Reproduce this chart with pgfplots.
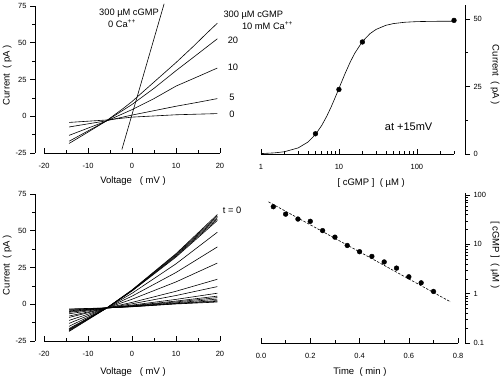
\documentclass[border=0pt]{standalone}
\usepackage{pgfplots}
\pgfplotsset{compat=1.18}
\usepackage{fontspec}
\setmainfont{Liberation Sans}
\tikzset{lab/.style={font=\fontsize{9.5}{11}\selectfont}, sml/.style={font=\fontsize{9.3}{11}\selectfont}}
\pgfplotsset{
  base/.style={
    scale only axis, clip=false, separate axis lines,
    /pgf/number format/assume math mode=true,
    tick label style={font=\fontsize{7.5}{8}\selectfont},
    major tick length=5pt, minor tick length=3pt,
    tick style={line width=0.6pt, black},
    axis line style={line width=0.8pt},
  },
  xpart/.style={base, axis x line=bottom, axis y line=none, ytick=\empty, tick align=inside, xticklabel style={yshift=-6.5pt}},
  ypart/.style={base, axis y line=#1, axis x line=none, xtick=\empty, tick align=outside},
  tr/.style={black, line width=0.6pt, mark=none},
}
\begin{document}
\begin{tikzpicture}
\useasboundingbox (0pt,0pt) rectangle (500pt,377pt);
% ---------------- Panel A ----------------
\begin{axis}[xpart, at={(35pt,224pt)}, anchor=south west, width=185pt, height=147pt,
  xmin=-22.05, xmax=20, ymin=-25, ymax=75,
  xtick={-20,-10,0,10,20}, minor xtick={-15,-5,5,15},
  x axis line style={-, shorten <=9pt}]
\addplot[tr] coordinates {(-14.3,-18.5) (-10,-10.8) (-6,-3.5) (-2,5.3) (0,10) (2,15.3) (6,25.9) (10,36.5) (14,47.7) (17,56.5) (19.4,63.3)};
\addplot[tr] coordinates {(-14.3,-17) (-10,-10) (-6,-3.5) (0,8) (5,19) (10,31) (15,42.5) (19.4,52.7)};
\addplot[tr] coordinates {(-14.3,-13) (-6,-3.5) (0,4.5) (5,12) (10,20.5) (15,27) (19.4,32.8)};
\addplot[tr] coordinates {(-14.3,-7.3) (-6,-3.2) (0,0.8) (10,6.8) (15,9.5) (19.4,12)};
\addplot[tr] coordinates {(-14.3,-4.2) (-6,-2.6) (0,-0.6) (10,1.0) (19.4,1.8)};
\addplot[tr] coordinates {(-2.3,-22.6) (7.3,76.5)};
\node[lab, anchor=center] at (axis description cs:0.53,-0.19) {Voltage~~~( mV )};
\node[sml] at (axis description cs:0.508,0.952) {300 µM cGMP};
\node[sml] at (axis description cs:0.47,0.878) {0 Ca\textsuperscript{++}};
\node[sml, anchor=west] at (axis description cs:1.0,0.939) {300 µM cGMP};
\node[sml, anchor=west] at (axis description cs:1.1,0.864) {10 mM Ca\textsuperscript{++}};
\node[sml] at (axis description cs:1.07,0.769) {20};
\node[sml] at (axis description cs:1.07,0.585) {10};
\node[sml] at (axis description cs:1.065,0.381) {5};
\node[sml] at (axis description cs:1.065,0.265) {0};
\end{axis}
\begin{axis}[ypart=left, at={(35pt,224pt)}, anchor=south west, width=185pt, height=147pt,
  xmin=-22.05, xmax=20, ymin=-25, ymax=75,
  ytick={-25,0,25,50,75}, minor ytick={-12.5,12.5,37.5,62.5}, y axis line style={-}]
\node[lab, rotate=90] at (axis description cs:-0.151,0.53) {Current~~( pA )};
\end{axis}
% ---------------- Panel B ----------------
\begin{axis}[xpart, at={(261pt,223pt)}, anchor=south west, width=204pt, height=149pt,
  xmode=log, xmin=1, xmax=415, ymin=0, ymax=55.2,
  log ticks with fixed point, xtick={1,10,100},
  minor xtick={2,3,4,5,6,7,8,9,20,30,40,50,60,70,80,90,200,300},
  x axis line style={-, shorten >=11pt}]
\addplot[tr] coordinates {(1,0.15) (1.5,0.42) (2,0.84) (3,2.26) (4,4.42) (5,7.23) (6,10.52) (7,14.06) (8,17.63) (9,21.08) (10,24.29) (12,29.82) (14,34.12) (16,37.37) (20,41.65) (25,44.57) (30,46.16) (40,47.67) (50,48.31) (70,48.81) (100,49.04) (150,49.14) (200,49.17) (300,49.19)};
\addplot[only marks, mark=*, mark size=2.4pt, black] coordinates {(5,7.5) (10,23.9) (20,41.5) (300,49.5)};
\node[lab] at (axis description cs:0.54,-0.195) {[ cGMP ]~~( µM )};
\node[font=\fontsize{11}{13}\selectfont, anchor=west] at (axis description cs:0.59,0.18) {at +15mV};
\end{axis}
\begin{axis}[ypart=right, at={(261pt,223pt)}, anchor=south west, width=204pt, height=149pt,
  xmode=log, xmin=1, xmax=415, ymin=0, ymax=55.2,
  ytick={0,25,50}, minor ytick={12.5,37.5}, y axis line style={-}]
\node[lab, rotate=-90] at (axis description cs:1.147,0.53) {Current~~( pA )};
\end{axis}
% ---------------- Panel C ----------------
\begin{axis}[xpart, at={(35pt,36pt)}, anchor=south west, width=185pt, height=147pt,
  xmin=-22.05, xmax=20, ymin=-25, ymax=75,
  xtick={-20,-10,0,10,20}, minor xtick={-15,-5,5,15},
  x axis line style={-, shorten <=9pt}]
\addplot[tr] coordinates {(-14.3,-18.5) (-5.7,-2.5) (0,9.76) (10,34.4) (19.4,61)};
\addplot[tr] coordinates {(-14.3,-18) (-5.7,-2.5) (0,9.56) (10,33.9) (19.4,60)};
\addplot[tr] coordinates {(-14.3,-17.5) (-5.7,-2.5) (0,9.37) (10,33.3) (19.4,59)};
\addplot[tr] coordinates {(-14.3,-17) (-5.7,-2.5) (0,9.18) (10,32.7) (19.4,58)};
\addplot[tr] coordinates {(-14.3,-16.5) (-5.7,-2.5) (0,8.99) (10,32.1) (19.4,57)};
\addplot[tr] coordinates {(-14.3,-15) (-5.7,-2.5) (0,7.44) (10,27.5) (19.4,49)};
\addplot[tr] coordinates {(-14.3,-13) (-5.7,-2.5) (0,5.51) (10,21.6) (19.4,39)};
\addplot[tr] coordinates {(-14.3,-11) (-5.7,-2.5) (0,3.39) (10,15.2) (19.4,28)};
\addplot[tr] coordinates {(-14.3,-9) (-5.7,-2.5) (0,1.26) (10,8.84) (19.4,17)};
\addplot[tr] coordinates {(-14.3,-8) (-5.7,-2.5) (0,0.30) (10,5.94) (19.4,12)};
\addplot[tr] coordinates {(-14.3,-6.5) (-5.7,-2.5) (0,-0.57) (10,3.31) (19.4,7.5)};
\addplot[tr] coordinates {(-14.3,-5.5) (-5.7,-2.5) (0,-0.95) (10,2.16) (19.4,5.5)};
\addplot[tr] coordinates {(-14.3,-5) (-5.7,-2.5) (0,-1.15) (10,1.57) (19.4,4.5)};
\addplot[tr] coordinates {(-14.3,-4.5) (-5.7,-2.5) (0,-1.34) (10,0.99) (19.4,3.5)};
\addplot[tr] coordinates {(-14.3,-4) (-5.7,-2.5) (0,-1.54) (10,0.6) (19.4,2.5)};
\addplot[tr] coordinates {(-14.3,-3.5) (-5.7,-2.5) (0,-1.63) (10,0.4) (19.4,2)};
\addplot[tr] coordinates {(-14.3,-3.2) (-5.7,-2.5) (0,-1.73) (10,0.2) (19.4,1.5)};
\node[lab] at (axis description cs:0.53,-0.21) {Voltage~~~( mV )};
\node[sml] at (axis description cs:1.065,0.891) {t = 0};
\end{axis}
\begin{axis}[ypart=left, at={(35pt,36pt)}, anchor=south west, width=185pt, height=147pt,
  xmin=-22.05, xmax=20, ymin=-25, ymax=75,
  ytick={-25,0,25,50,75}, minor ytick={-12.5,12.5,37.5,62.5}, y axis line style={-}]
\node[lab, rotate=90] at (axis description cs:-0.151,0.517) {Current~~( pA )};
\end{axis}
% ---------------- Panel D ----------------
\begin{axis}[xpart, at={(261pt,34pt)}, anchor=south west, width=204pt, height=150pt,
  xmin=0, xmax=0.828, ymode=log, ymin=0.1, ymax=110,
  xtick={0,0.2,0.4,0.6,0.8}, minor xtick={0.1,0.3,0.5,0.7},
  xticklabel style={/pgf/number format/.cd, fixed, fixed zerofill, precision=1},
  x axis line style={-, shorten >=7pt}]
\addplot[black, line width=0.6pt, dash pattern=on 2.5pt off 1.5pt] coordinates {(0.03,73) (0.77,0.68)};
\addplot[only marks, mark=*, mark size=2.4pt, black] coordinates {(0.05,58) (0.1,41) (0.15,32.6) (0.2,29.3) (0.25,19) (0.3,14) (0.35,9.5) (0.4,7.1) (0.45,5.7) (0.5,4.4) (0.55,3.3) (0.6,2.2) (0.65,1.66) (0.7,1.11)};
\node[lab] at (axis description cs:0.485,-0.193) {Time~~( min )};
\end{axis}
\begin{axis}[ypart=right, at={(261pt,34pt)}, anchor=south west, width=204pt, height=150pt,
  xmin=0, xmax=0.828, ymode=log, ymin=0.1, ymax=110,
  log ticks with fixed point, ytick={0.1,1,10,100}, y axis line style={-}]
\node[lab, rotate=-90] at (axis description cs:1.147,0.587) {[ cGMP ]~~( µM )};
\end{axis}
\end{tikzpicture}
\end{document}
